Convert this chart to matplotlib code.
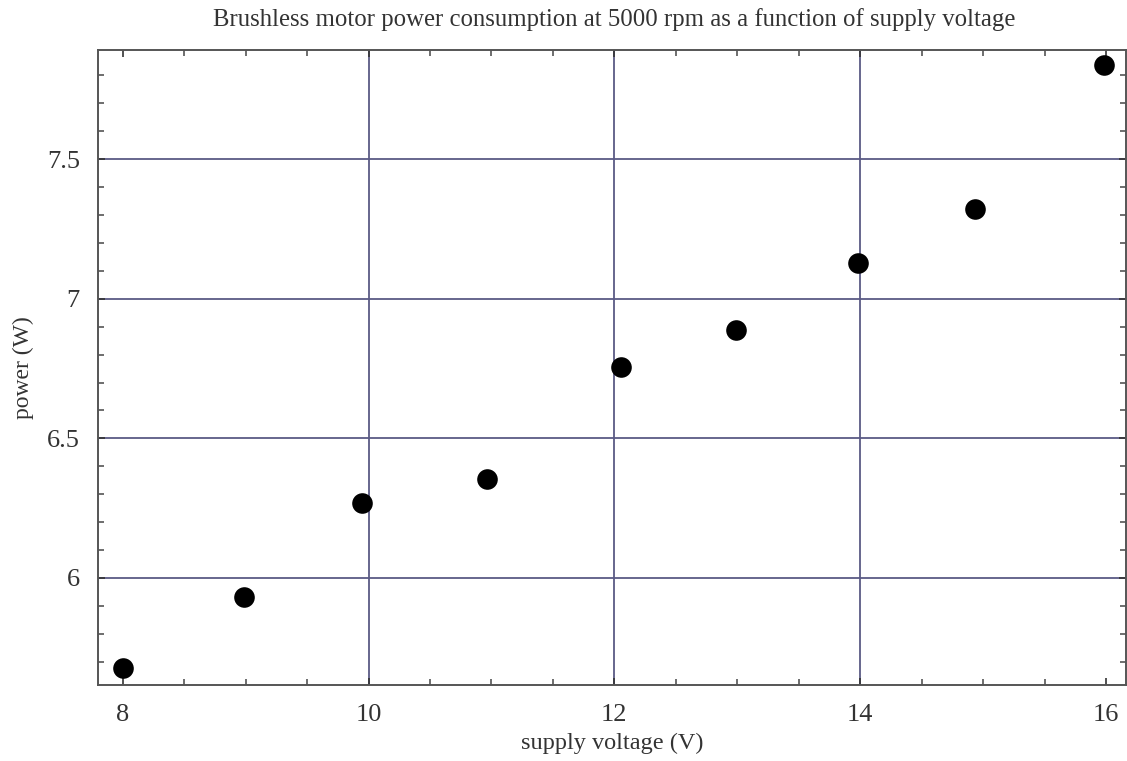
import numpy as np
import matplotlib
matplotlib.use("Agg")
import matplotlib.pyplot as plt
from matplotlib.ticker import MultipleLocator, FixedLocator

plt.rcParams["font.family"] = ["Liberation Serif", "DejaVu Serif"]

voltage = [8.0, 8.99, 9.95, 10.96, 12.05, 12.99, 13.98, 14.93, 15.98]
power = [5.678, 5.932, 6.268, 6.354, 6.754, 6.889, 7.129, 7.321, 7.836]

x_labels = [8, 10, 12, 14, 16]
y_labels = [6, 6.5, 7, 7.5]
x_grid = [10, 12, 14]

frame_col = "#555555"
grid_col = "#5a5a85"

fig = plt.figure(figsize=(11.27, 7.61), dpi=100)
ax = fig.add_axes([0.087, 0.100, 0.912, 0.834])

ax.scatter(voltage, power, s=220, color="black", zorder=3, linewidths=0)

ax.set_xlim(7.8, 16.16)
ax.set_ylim(5.617, 7.89)

for gx in x_grid:
    ax.axvline(gx, color=grid_col, lw=1.3, zorder=1)
for gy in y_labels:
    ax.axhline(gy, color=grid_col, lw=1.3, zorder=1)

ax.xaxis.set_major_locator(FixedLocator(x_labels))
ax.xaxis.set_minor_locator(MultipleLocator(0.5))
ax.yaxis.set_major_locator(FixedLocator(y_labels))
ax.yaxis.set_minor_locator(MultipleLocator(0.1))
ax.set_yticklabels(["6", "6.5", "7", "7.5"])
ax.set_xticklabels([str(v) for v in x_labels])

ax.tick_params(which="both", direction="in", top=True, right=True,
               color=frame_col, width=1.2)
ax.tick_params(which="major", length=5, labelsize=19, pad=14, colors="#333333")
ax.tick_params(which="minor", length=4)
ax.tick_params(axis="y", which="major", pad=13)
for sp in ax.spines.values():
    sp.set_color(frame_col)
    sp.set_linewidth(1.4)

ax.set_xlabel("supply voltage (V)", fontsize=17.5, color="#333333", labelpad=5)
ax.set_ylabel("power (W)", fontsize=17, color="#333333", labelpad=9)
fig.text(0.545, 0.975, "Brushless motor power consumption at 5000 rpm as a function of supply voltage",
         ha="center", va="center", fontsize=17.8, color="#333333")

fig.savefig("out.png", dpi=100)
